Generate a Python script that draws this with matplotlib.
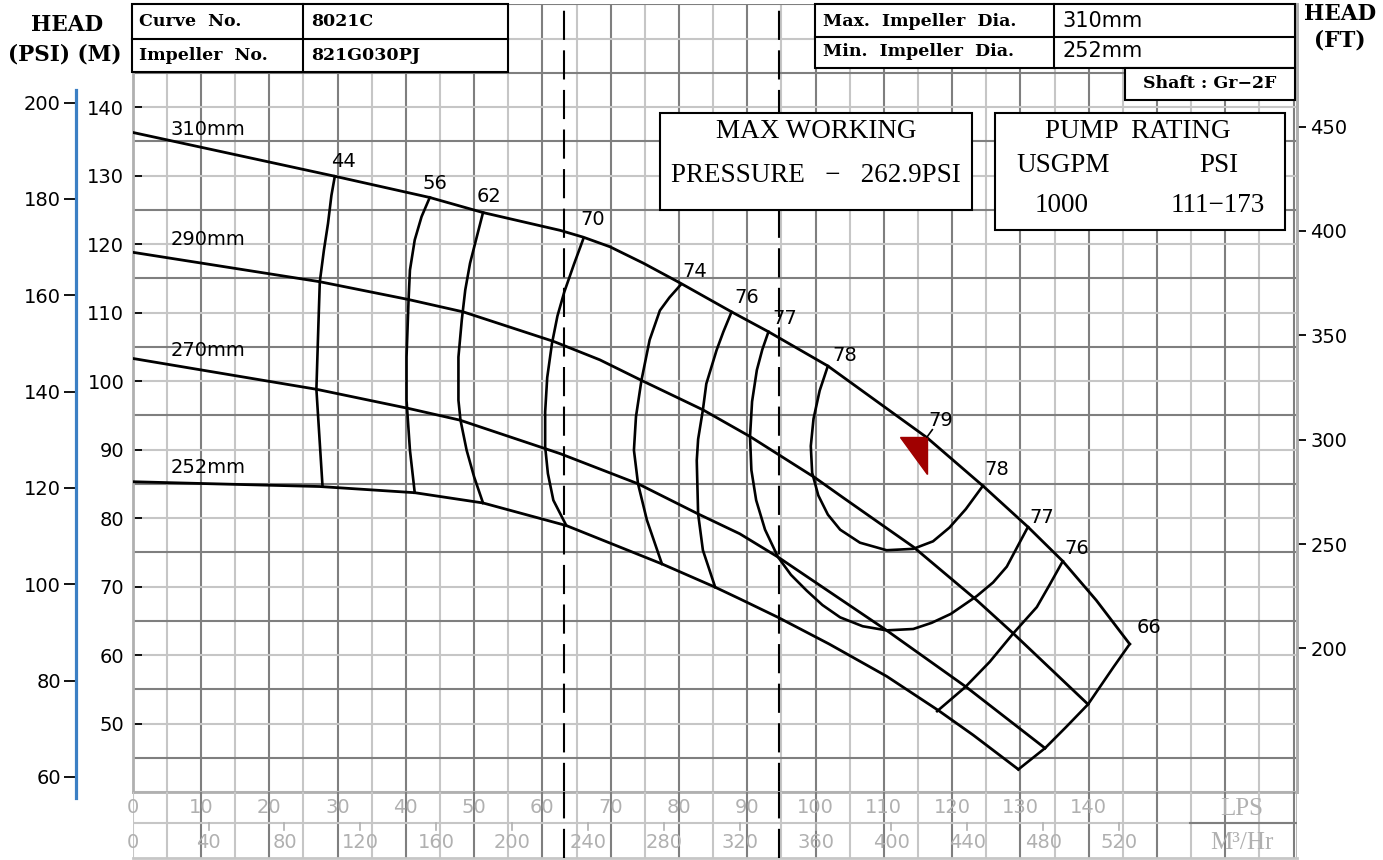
import matplotlib
matplotlib.use("Agg")
import matplotlib.pyplot as plt
from matplotlib.patches import Rectangle, Polygon
from matplotlib.lines import Line2D
import numpy as np

W, H = 1383, 860

# impeller head curves, flow in LPS, head in M
q310 = [0, 29.6, 43.5, 51.3, 62.6, 66.0, 69.9, 74.8, 80.2, 87.7, 93.1, 101.8, 116.3, 124.5, 131.1, 136.2, 141.1, 146.0]
h310 = [136.3, 129.9, 126.8, 124.6, 122.0, 121.0, 119.6, 117.2, 114.3, 110.1, 107.2, 102.2, 91.75, 84.7, 78.7, 73.7, 68.0, 61.6]
q290 = [0, 27.4, 40.4, 48.4, 61.6, 68.4, 74.5, 83.5, 90.4, 99.9, 104.0, 114.3, 123.6, 128.9, 139.9]
h290 = [118.8, 114.5, 111.9, 110.1, 105.8, 103.1, 100.1, 95.8, 91.9, 85.9, 83.0, 75.8, 68.0, 63.2, 52.8]
q270 = [0, 26.9, 40.4, 47.9, 62.6, 74.0, 82.8, 88.9, 94.5, 110.4, 122.1, 133.6]
h270 = [103.3, 98.8, 96.0, 94.3, 89.4, 85.0, 80.6, 77.7, 74.3, 63.6, 55.3, 46.4]
q252 = [0, 27.4, 41.3, 51.3, 63.5, 65.5, 77.5, 85.3, 88.9, 94.5, 102.0, 110.4, 118.0, 123.1, 129.7]
h252 = [85.3, 84.6, 83.7, 82.2, 78.9, 78.1, 73.3, 69.9, 68.2, 65.5, 61.6, 56.9, 51.9, 48.3, 43.3]
dia_labels = ["310mm", "290mm", "270mm", "252mm"]
dia_label_q = [5.5, 5.5, 5.5, 5.5]
dia_label_h = [136.7, 120.6, 104.5, 87.4]

# iso-efficiency lines
e44_q = [29.6, 29.1, 28.6, 28.0, 27.4, 27.2, 26.9, 27.4, 27.8]
e44_h = [129.9, 127.1, 123.0, 119.1, 114.5, 108.4, 98.8, 90.9, 84.6]
e56_q = [43.5, 42.3, 41.3, 40.6, 40.4, 40.1, 40.1, 40.6, 41.3]
e56_h = [126.8, 124.0, 120.6, 116.2, 111.9, 103.5, 97.2, 89.9, 83.7]
e62_q = [51.3, 50.4, 49.4, 48.7, 48.2, 47.7, 47.7, 48.0, 48.9, 50.0, 51.3]
e62_h = [124.6, 121.1, 117.2, 113.3, 109.0, 103.5, 97.2, 94.3, 89.9, 86.0, 82.2]
e70_q = [66.0, 64.6, 63.2, 62.2, 61.4, 60.7, 60.4, 60.4, 60.8, 61.6, 63.5]
e70_h = [120.8, 117.0, 113.0, 109.5, 105.5, 100.5, 95.5, 90.4, 86.5, 82.6, 78.9]
e74_q = [80.2, 78.6, 77.2, 75.7, 74.5, 73.7, 73.4, 74.0, 75.3, 77.5]
e74_h = [114.0, 112.2, 110.3, 106.0, 100.1, 94.8, 89.9, 85.0, 79.7, 73.3]
e76_q = [87.7, 86.5, 85.5, 84.0, 83.5, 82.8, 82.6, 82.8, 83.5, 85.3]
e76_h = [110.1, 107.2, 104.5, 99.6, 95.8, 91.5, 88.4, 80.6, 75.3, 69.9]
e77_q = [93.1, 92.2, 91.4, 90.7, 90.4, 90.6, 91.3, 92.6, 94.5, 96.4, 98.7, 101.0, 103.6, 106.9, 110.4, 114.3, 117.0, 119.8, 123.6, 126.0, 128.0, 131.1]
e77_h = [107.2, 104.6, 101.6, 97.0, 91.9, 87.0, 82.6, 78.3, 74.3, 71.7, 69.4, 67.3, 65.5, 64.2, 63.6, 63.8, 64.7, 66.0, 68.6, 70.6, 72.9, 78.7]
e78_q = [101.8, 100.6, 99.7, 99.3, 99.5, 100.4, 101.8, 103.6, 106.5, 110.4, 114.3, 117.2, 119.6, 122.0, 124.5]
e78_h = [102.2, 98.6, 94.5, 90.5, 86.6, 83.3, 80.5, 78.3, 76.4, 75.3, 75.5, 76.6, 78.6, 81.3, 84.7]
e76r_q = [136.2, 134.3, 132.4, 128.9, 125.5, 121.9, 117.8]
e76r_h = [73.7, 70.3, 67.0, 63.1, 59.0, 55.3, 51.8]
e66_q = [146.0, 143.6, 139.9, 136.7, 133.6, 129.7]
e66_h = [61.6, 58.2, 52.8, 49.5, 46.4, 43.3]

eff_labels = ["44", "56", "62", "70", "74", "76", "77", "78", "79", "78", "77", "76", "66"]
eff_label_q = [30.8, 44.3, 52.2, 67.3, 82.3, 89.9, 95.5, 104.3, 118.4, 126.5, 133.1, 138.2, 148.8]
eff_label_h = [132.1, 128.9, 126.9, 123.6, 116.0, 112.2, 109.1, 103.7, 94.3, 87.1, 80.1, 75.6, 64.0]

# best efficiency marker
bep_q = [112.4, 116.3, 116.3]
bep_h = [91.8, 91.8, 86.4]

# 1000 and 1500 USGPM in LPS
dashed_q = [63.09, 94.64]

m_ticks = [50, 60, 70, 80, 90, 100, 110, 120, 130, 140]
psi_ticks = [60, 80, 100, 120, 140, 160, 180, 200]
ft_ticks = [200, 250, 300, 350, 400, 450]
lps_ticks = [0, 10, 20, 30, 40, 50, 60, 70, 80, 90, 100, 110, 120, 130, 140]
m3h_ticks = [0, 40, 80, 120, 160, 200, 240, 280, 320, 360, 400, 440, 480, 520]

PSI_PER_M = 1.4219
FT_PER_M = 3.28084
y_lo, y_hi = 40, 155.05
x_lo, x_hi = 0, 170.5

DARK = "#7f7f7f"
LIGHT = "#c6c6c6"


def fx(x):
    return x / W


def fy(y):
    return 1 - y / H


fig = plt.figure(figsize=(W / 100, H / 100), dpi=100)
ax = fig.add_axes([fx(132.7), fy(792), (1297 - 132.7) / W, 788 / H])
ax.set_xlim(x_lo, x_hi)
ax.set_ylim(y_lo, y_hi)

# grid: dark every 10 LPS, light at the 5s; horizontally dark at 45, 55, ...
for v in np.arange(0, 171, 5):
    col = DARK if (v % 10 == 0 and v > 0) else LIGHT
    ax.axvline(v, color=col, lw=1.5, zorder=1)
for v in np.arange(40, 156, 5):
    col = DARK if v % 10 == 5 else LIGHT
    ax.axhline(v, color=col, lw=1.5, zorder=1)

for s in ["left", "right", "bottom"]:
    ax.spines[s].set_color("#b0b0b0")
    ax.spines[s].set_linewidth(2)
ax.spines["top"].set_visible(False)

ax.set_xticks([])
ax.set_yticks(m_ticks)
ax.tick_params(axis="y", direction="in", length=6.5, width=1.3, pad=6,
               labelsize=14, color="black")

for q in dashed_q:
    ax.axvline(q, color="black", lw=1.5, ls=(0, (14, 5)), zorder=2)

# impeller curves
for q, h in [(q310, h310), (q290, h290), (q270, h270), (q252, h252)]:
    ax.plot(q, h, color="black", lw=2.0, zorder=3, solid_joinstyle="round")
for lab, q, h in zip(dia_labels, dia_label_q, dia_label_h):
    ax.text(q, h, lab, fontsize=14, ha="left", va="center", zorder=4)

eff_curves = [(e44_q, e44_h), (e56_q, e56_h), (e62_q, e62_h), (e70_q, e70_h),
              (e74_q, e74_h), (e76_q, e76_h), (e77_q, e77_h), (e78_q, e78_h),
              (e76r_q, e76r_h), (e66_q, e66_h)]
for q, h in eff_curves:
    ax.plot(q, h, color="black", lw=1.9, zorder=3, solid_joinstyle="round")
for lab, q, h in zip(eff_labels, eff_label_q, eff_label_h):
    ax.text(q, h, lab, fontsize=14, ha="center", va="center", zorder=4)

ax.add_patch(Polygon(list(zip(bep_q, bep_h)), closed=True, color="#a00000", zorder=4))
ax.plot([bep_q[1], bep_q[1] + 0.8], [bep_h[1], bep_h[1] + 1.1], color="black", lw=1.2, zorder=4)

# PSI axis, outer left with blue spine
ax_psi = ax.twinx()
ax_psi.set_ylim(y_lo * PSI_PER_M, y_hi * PSI_PER_M)
ax_psi.yaxis.set_ticks_position("left")
ax_psi.spines["left"].set_position(("outward", 40.8))
ax_psi.spines["left"].set_visible(True)
ax_psi.spines["left"].set_color("#3b7fc4")
ax_psi.spines["left"].set_linewidth(2.3)
ax_psi.spines["left"].set_bounds(55.6, 202.6)
for s in ["right", "top", "bottom"]:
    ax_psi.spines[s].set_visible(False)
ax_psi.set_yticks(psi_ticks)
ax_psi.tick_params(axis="y", direction="out", length=9, width=1.3, pad=2,
                   labelsize=14, color="black")

# FT axis, right
ax_ft = ax.twinx()
ax_ft.set_ylim(y_lo * FT_PER_M, y_hi * FT_PER_M)
for s in ["left", "top", "bottom"]:
    ax_ft.spines[s].set_visible(False)
ax_ft.spines["right"].set_color("#b0b0b0")
ax_ft.spines["right"].set_linewidth(2)
ax_ft.set_yticks(ft_ticks)
ax_ft.tick_params(axis="y", direction="out", length=6.5, width=1.3, pad=3,
                  labelsize=14, color="black")

# flow scales below the chart
axb = fig.add_axes([fx(132.7), fy(858), (1297 - 132.7) / W, 66 / H])
axb.set_xlim(x_lo, x_hi)
axb.set_ylim(0, 1)
axb.axis("off")
for v in np.arange(0, 171, 5):
    col = DARK if (v % 10 == 0 and v > 0) else LIGHT
    axb.axvline(v, color=col, lw=1.5, zorder=1)
axb.axvline(x_hi, color="#b0b0b0", lw=2, zorder=1)
axb.axhline(0.53, color=LIGHT, lw=1.5, zorder=1)
axb.axhline(0.0, color=LIGHT, lw=2, zorder=1, clip_on=False)
axb.plot([154.8, x_hi], [0.53, 0.53], color=DARK, lw=1.5, zorder=1)
for q in dashed_q:
    axb.axvline(q, color="black", lw=1.5, ls=(0, (14, 5)), zorder=2)
for v in lps_ticks:
    axb.text(v, 0.77, str(v), ha="center", va="center", fontsize=14, color="#b0b0b0", zorder=3)
for v in m3h_ticks:
    axb.text(v / 3.6, 0.24, str(v), ha="center", va="center", fontsize=14, color="#b0b0b0", zorder=3)
    if v > 0:
        axb.plot([v / 3.6, v / 3.6], [0.53, 0.43], color="#b0b0b0", lw=1.2, zorder=2)
axb.text(162.4, 0.74, "LPS", ha="center", va="center", fontsize=18,
         family="Liberation Serif", color="#b0b0b0")
axb.text(162.4, 0.22, "M³/Hr", ha="center", va="center", fontsize=18,
         family="Liberation Serif", color="#b0b0b0")


# header boxes in figure pixels
def box(x0, y0, x1, y1):
    fig.patches.append(Rectangle((fx(x0), fy(y1)), (x1 - x0) / W, (y1 - y0) / H,
                                 transform=fig.transFigure, facecolor="white",
                                 edgecolor="black", lw=1.5, zorder=5))


def hline(x0, x1, y):
    fig.add_artist(Line2D([fx(x0), fx(x1)], [fy(y), fy(y)], color="black", lw=1.5, zorder=6))


def vline(x, y0, y1):
    fig.add_artist(Line2D([fx(x), fx(x)], [fy(y0), fy(y1)], color="black", lw=1.5, zorder=6))


def txt(x, y, s, **kw):
    fig.text(fx(x), fy(y), s, va="center", zorder=7, **kw)


hdr = dict(family="DejaVu Serif", fontweight="bold", fontsize=12.5, ha="left")
box(132, 4, 508, 72)
vline(303, 4, 72)
hline(132, 508, 39)
txt(139, 21, "Curve  No.", **hdr)
txt(311, 21, "8021C", **hdr)
txt(139, 56, "Impeller  No.", **hdr)
txt(311, 56, "821G030PJ", **hdr)

box(815, 4, 1295, 68)
vline(1054, 4, 68)
hline(815, 1295, 37)
txt(823, 21, "Max.  Impeller  Dia.", **hdr)
txt(823, 52, "Min.  Impeller  Dia.", **hdr)
txt(1062, 21, "310mm", fontsize=15, ha="left")
txt(1062, 51, "252mm", fontsize=15, ha="left")
box(1125, 68, 1295, 100)
txt(1210, 84, "Shaft : Gr\u22122F", family="DejaVu Serif", fontweight="bold",
    fontsize=12.5, ha="center")

big = dict(family="Liberation Serif", fontsize=19.5, ha="center")
box(660, 113, 972, 210)
txt(816, 132, "MAX WORKING", **big)
txt(816, 176, "PRESSURE   \u2212   262.9PSI", **big)

box(995, 113, 1285, 230)
txt(1138, 132, "PUMP  RATING", **big)
txt(1063, 166, "USGPM", **big)
txt(1219, 166, "PSI", **big)
txt(1062, 206, "1000", **big)
txt(1218, 206, "111\u2212173", **big)

axis_hdr = dict(family="DejaVu Serif", fontweight="bold", fontsize=15.5, ha="center")
txt(67, 25, "HEAD", **axis_hdr)
txt(65, 55, "(PSI) (M)", **axis_hdr)
txt(1340, 14, "HEAD", **axis_hdr)
txt(1340, 40, "(FT)", **axis_hdr)

fig.savefig("out.png", dpi=100)
